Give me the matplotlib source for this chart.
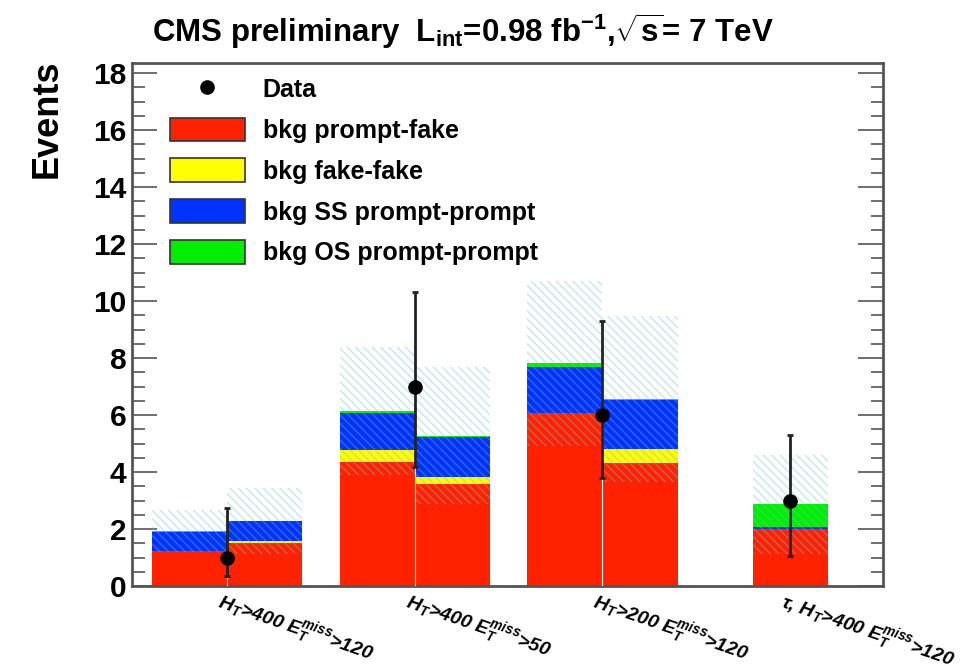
import numpy as np
import matplotlib
matplotlib.use('Agg')
import matplotlib.pyplot as plt
from matplotlib.patches import Patch
from matplotlib.lines import Line2D
from matplotlib.ticker import MultipleLocator

plt.rcParams['font.family'] = ['Liberation Sans', 'DejaVu Sans']
plt.rcParams['font.weight'] = 'bold'
plt.rcParams['mathtext.fontset'] = 'custom'
plt.rcParams['mathtext.rm'] = 'Liberation Sans:bold'
plt.rcParams['mathtext.it'] = 'Liberation Sans:bold:italic'
plt.rcParams['hatch.linewidth'] = 1.0

#   Signal regions (x labels) and number of bins in each
regions = [r'$\mathregular{H_T}$>400 $\mathregular{E_T^{miss}}$>120',
           r'$\mathregular{H_T}$>400 $\mathregular{E_T^{miss}}$>50',
           r'$\mathregular{H_T}$>200 $\mathregular{E_T^{miss}}$>120',
           r'$\tau$, $\mathregular{H_T}$>400 $\mathregular{E_T^{miss}}$>120']
bins_per_region = [2, 2, 2, 1]

#   Background components, one value per bin
prompt_fake = [1.24, 1.50, 4.34, 3.57, 6.08, 4.30, 1.99]
fake_fake = [0.00, 0.08, 0.43, 0.27, 0.00, 0.51, 0.00]
ss_prompt = [0.67, 0.70, 1.29, 1.38, 1.62, 1.72, 0.09]
os_prompt = [0.02, 0.00, 0.08, 0.05, 0.11, 0.04, 0.79]
bkg_err = [0.74, 1.15, 2.24, 2.40, 2.90, 2.91, 1.73]

#   Observed data, one per region
data = [1, 7, 6, 3]
data_lo = [0.35, 4.19, 3.80, 1.06]
data_hi = [2.73, 10.33, 9.31, 5.30]

labels = ['bkg prompt-fake', 'bkg fake-fake', 'bkg SS prompt-prompt', 'bkg OS prompt-prompt']
colors = ['#ff2200', '#ffff00', '#0033ff', '#00ee00']

# bin positions: regions spaced by 2.5, bins of width 1 around the region centre
centers = 1.265 + 2.5 * np.arange(len(regions))
lefts = []
for c, n in zip(centers, bins_per_region):
    for k in range(n):
        lefts.append(c - n / 2.0 + k)
lefts = np.array(lefts)

fig = plt.figure(figsize=(9.65, 6.66), dpi=100)
ax = fig.add_axes([0.1368, 0.1201, 0.7782, 0.786])

bottom = np.zeros(len(lefts))
for vals, col in zip([prompt_fake, fake_fake, ss_prompt, os_prompt], colors):
    ax.bar(lefts, vals, width=1.0, bottom=bottom, align='edge', color=col,
           edgecolor='none', linewidth=0)
    bottom = bottom + np.array(vals)

# white separators between adjacent bins
for i, l in enumerate(lefts):
    if np.any(np.isclose(lefts + 1.0, l)):
        ax.plot([l, l], [0, bottom[i]], color='white', lw=0.8, zorder=3)

# uncertainty band
err = np.array(bkg_err)
ax.bar(lefts, 2 * err, width=1.0, bottom=bottom - err, align='edge',
       facecolor='none', edgecolor='#6cc4cc', hatch='\\\\\\\\', linewidth=0, alpha=0.4, zorder=2)

# data points
d = np.array(data, dtype=float)
yerr = [d - np.array(data_lo), np.array(data_hi) - d]
ax.errorbar(centers, d, yerr=yerr, fmt='o', color='black', ecolor='#222222',
            markersize=9.5, elinewidth=2, capsize=2, capthick=2, zorder=5)

ax.set_xlim(0, 10)
ax.set_ylim(0, 18.37)
ax.yaxis.set_major_locator(MultipleLocator(2))
ax.yaxis.set_minor_locator(MultipleLocator(0.5))
ax.tick_params(axis='y', which='both', direction='in', left=True, right=True,
               labelsize=21.5, pad=4, width=1.2, color='#555555')
ax.tick_params(axis='y', which='major', length=18)
ax.tick_params(axis='y', which='minor', length=9)
ax.set_xticks(centers)
ax.set_xticklabels([])
ax.tick_params(axis='x', length=0)
for sp in ax.spines.values():
    sp.set_linewidth(2)
    sp.set_color('#555555')

for c, lab in zip(centers, regions):
    ax.text(c - 0.05, -0.05, lab, rotation=-19, rotation_mode='anchor',
            ha='left', va='top', fontsize=14, style='italic', clip_on=False)

fig.text(47 / 965, 1 - 60 / 666, 'Events', rotation=90, ha='center', va='top', fontsize=26)
fig.text(152 / 965, 1 - 42 / 666,
         r'CMS preliminary  L$_{\mathregular{int}}$=0.98 fb$^{\mathregular{-1}}$,$\sqrt{\mathregular{s}}$= 7 TeV',
         ha='left', va='baseline', fontsize=22.5)

handles = [Line2D([], [], marker='o', color='black', linestyle='none', markersize=9.5)]
handles += [Patch(facecolor=c, edgecolor='#333333', linewidth=1.2) for c in colors]
ax.legend(handles, ['Data'] + labels, loc='upper left', bbox_to_anchor=(0.05, 0.973),
          frameon=False, borderaxespad=0, borderpad=0, fontsize=18,
          handlelength=3.0, handleheight=1.08, handletextpad=0.72, labelspacing=0.62)

fig.savefig('out.png', dpi=100)
